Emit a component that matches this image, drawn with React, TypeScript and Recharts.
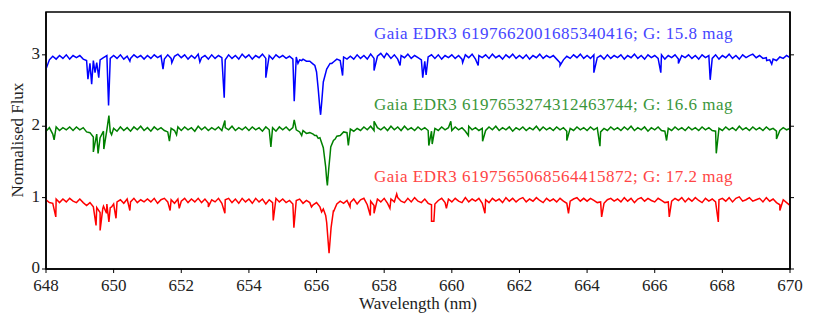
import React from 'react';
import { LineChart, Line, XAxis, YAxis, ReferenceArea } from 'recharts';

// wavelength grid: 648.0 .. 670.0 nm every 0.1 nm
const WL_START = 648;
const WL_STEP = 0.1;

// continuum flux on the grid (x100)
const blueGrid = [
  280, 293, 298, 294, 299, 295, 300, 294, 299, 296,
  299, 294, 292, 288, 292, 289, 293, 296, 299, 295,
  299, 295, 300, 294, 298, 295, 300, 296, 299, 294,
  299, 295, 300, 296, 299, 294, 300, 295, 298, 301,
  296, 300, 294, 299, 295, 301, 296, 299, 294, 300,
  295, 299, 296, 293, 300, 295, 299, 294, 301, 296,
  300, 294, 299, 296, 301, 295, 299, 294, 300, 296,
  299, 295, 298, 294, 297, 293, 294, 291, 291, 287,
  276, 224, 262, 280, 288, 290, 294, 292, 297, 294,
  298, 294, 300, 295, 299, 294, 301, 295, 298, 302,
  296, 301, 295, 300, 294, 299, 296, 301, 295, 299,
  296, 293, 291, 297, 300, 295, 300, 294, 299, 296,
  300, 295, 299, 294, 300, 296, 301, 294, 299, 296,
  300, 295, 301, 296, 299, 294, 300, 296, 301, 295,
  299, 295, 300, 294, 299, 296, 301, 295, 299, 296,
  299, 294, 289, 293, 298, 295, 300, 296, 301, 295,
  299, 295, 300, 296, 299, 294, 300, 295, 299, 296,
  300, 294, 299, 296, 301, 295, 299, 294, 300, 296,
  299, 295, 300, 294, 299, 296, 300, 294, 299, 296,
  300, 295, 299, 294, 300, 296, 299, 295, 300, 294,
  299, 296, 301, 295, 299, 294, 300, 296, 299, 301,
  296, 299, 295, 296, 293, 294, 292, 297, 295, 299,
  296,
];

const greenGrid = [
  193, 198, 189, 199, 194, 198, 195, 199, 194, 199,
  195, 198, 192, 191, 185, 189, 184, 193, 195, 192,
  197, 193, 199, 194, 198, 193, 199, 195, 200, 194,
  198, 193, 199, 195, 198, 194, 192, 197, 194, 199,
  194, 199, 195, 198, 193, 200, 195, 199, 194, 198,
  195, 199, 194, 198, 195, 200, 194, 198, 195, 199,
  194, 199, 195, 198, 193, 199, 195, 198, 193, 199,
  195, 199, 194, 198, 195, 192, 194, 190, 191, 189,
  187, 184, 170, 125, 160, 180, 186, 187, 192, 191,
  196, 193, 197, 194, 199, 195, 200, 194, 198, 195,
  199, 194, 200, 195, 199, 194, 200, 195, 198, 194,
  199, 195, 198, 194, 193, 197, 194, 199, 195, 198,
  194, 199, 195, 198, 193, 200, 195, 198, 194, 197,
  194, 199, 195, 200, 194, 198, 195, 199, 193, 198,
  195, 199, 194, 198, 195, 200, 194, 199, 195, 198,
  194, 199, 195, 198, 193, 197, 194, 199, 195, 198,
  194, 199, 195, 198, 192, 197, 194, 199, 195, 198,
  194, 199, 195, 200, 194, 198, 195, 199, 193, 198,
  195, 199, 194, 193, 197, 194, 199, 195, 198, 194,
  199, 195, 198, 194, 199, 195, 198, 194, 193, 197,
  194, 199, 195, 198, 194, 200, 195, 198, 194, 199,
  195, 198, 194, 199, 195, 197, 193, 194, 198, 195,
  197,
];

const redGrid = [
  97, 93, 92, 98, 93, 98, 94, 99, 95, 93,
  98, 93, 89, 93, 87, 86, 79, 88, 91, 86,
  91, 94, 97, 92, 98, 94, 99, 93, 97, 94,
  98, 94, 99, 92, 97, 99, 94, 97, 92, 98,
  95, 99, 93, 98, 94, 99, 93, 98, 92, 97,
  94, 99, 92, 97, 99, 93, 98, 92, 99, 94,
  98, 92, 99, 94, 98, 91, 97, 93, 99, 94,
  98, 93, 96, 91, 96, 98, 92, 96, 93, 90,
  93, 87, 84, 65, 40, 82, 91, 95, 92, 96,
  93, 98, 91, 97, 99, 90, 95, 89, 98, 94,
  99, 92, 98, 94, 100, 95, 93, 99, 94, 100,
  95, 93, 98, 92, 90, 91, 96, 99, 93, 98,
  94, 99, 95, 93, 100, 94, 98, 95, 99, 92,
  97, 93, 99, 95, 98, 93, 100, 95, 99, 94,
  98, 100, 94, 98, 95, 100, 96, 93, 99, 95,
  98, 94, 99, 95, 92, 95, 98, 100, 95, 99,
  95, 99, 96, 93, 94, 92, 97, 99, 95, 98,
  94, 100, 95, 99, 93, 98, 100, 95, 99, 96,
  94, 99, 96, 93, 94, 95, 99, 96, 100, 94,
  99, 95, 100, 96, 93, 99, 95, 98, 94, 97,
  99, 95, 100, 94, 99, 101, 95, 97, 100, 95,
  97, 99, 94, 100, 95, 98, 93, 90, 97, 93,
  89,
];

// absorption lines / spikes off the grid: [wavelength, flux x100]
const blueLines = [
  [649.24, 266], [649.35, 259], [649.45, 275], [649.56, 268], [649.85, 229],
  [650.48, 291], [651.46, 280], [651.72, 289], [652.55, 290], [653.27, 240],
  [654.5, 268], [655.34, 235], [655.45, 288], [655.56, 292], [655.95, 285],
  [656.05, 252], [656.12, 216], [656.15, 232], [656.45, 288], [656.77, 271],
  [657.7, 278], [658.07, 302], [658.47, 285], [659.14, 268], [659.24, 272],
  [660.32, 289], [660.78, 285], [663.2, 285], [664.2, 275], [666.18, 275],
  [666.7, 288], [667.64, 265], [669.31, 292], [669.46, 287],
];

const greenLines = [
  [648.24, 181], [649.4, 164], [649.54, 162], [649.71, 168], [649.86, 215],
  [649.94, 188], [651.65, 179], [651.86, 188], [653.29, 208], [654.65, 171],
  [655.34, 209], [655.56, 187], [655.95, 187], [656.05, 183], [656.27, 143],
  [656.32, 117], [656.36, 140], [656.42, 171], [656.55, 182], [656.94, 173],
  [657.7, 207], [659.32, 173], [659.42, 175], [659.97, 207], [660.49, 187],
  [660.91, 179], [663.4, 180], [664.38, 172], [666.35, 180], [667.82, 162],
  [669.6, 182],
];

const redLines = [
  [648.29, 73], [649.48, 61], [649.6, 54], [649.68, 85], [649.79, 78],
  [649.86, 66], [649.94, 87], [650.07, 71], [650.48, 82], [651.67, 82],
  [651.94, 85], [652.8, 87], [653.29, 78], [654.72, 68], [655.33, 58],
  [655.85, 87], [656.15, 80], [656.27, 75], [656.37, 22], [656.43, 58],
  [656.5, 80], [656.99, 87], [657.59, 75], [657.7, 78], [658.17, 85],
  [658.37, 105], [659.4, 67], [659.47, 67], [659.84, 85], [660.98, 78],
  [663.45, 78], [664.43, 73], [666.43, 73], [667.88, 66], [669.7, 82],
];

const xTicks = [648, 650, 652, 654, 656, 658, 660, 662, 664, 666, 668, 670];
const yTicks = [0, 1, 2, 3];

const labels = [
  { text: 'Gaia EDR3 6197662001685340416; G: 15.8 mag', color: '#4545ff', top: 23 },
  { text: 'Gaia EDR3 6197653274312463744; G: 16.6 mag', color: '#3b963b', top: 94 },
  { text: 'Gaia EDR3 6197565068564415872; G: 17.2 mag', color: '#ff4545', top: 166 },
];

const buildSeries = (grid: number[], lines: number[][]) => {
  const pts = grid.map((v, i) => ({ wl: +(WL_START + i * WL_STEP).toFixed(2), flux: v / 100 }));
  lines.forEach(([wl, v]) => pts.push({ wl, flux: v / 100 }));
  return pts.sort((a, b) => a.wl - b.wl);
};

const blueData = buildSeries(blueGrid, blueLines);
const greenData = buildSeries(greenGrid, greenLines);
const redData = buildSeries(redGrid, redLines);

const FONT = '"Liberation Serif", "Times New Roman", Tinos, "DejaVu Serif", "Noto Serif", FreeSerif, "Nimbus Roman", serif';
const tickStyle = { fontSize: 17, fill: '#222', fontFamily: FONT };

export default function App() {
  return (
    <div style={{ position: 'relative', width: 814, height: 326, fontFamily: FONT }}>
      <style>{`body { margin: 0; }`}</style>
      <LineChart width={814} height={326} margin={{ top: 12, right: 14, bottom: 27, left: 6 }}>
        <XAxis
          type="number"
          dataKey="wl"
          domain={[648, 670]}
          ticks={xTicks}
          allowDataOverflow
          tick={tickStyle}
          tickSize={4}
          tickMargin={6}
          tickLine={{ stroke: '#000' }}
          axisLine={{ stroke: '#000', strokeWidth: 1.5 }}
          height={30}
        />
        <YAxis
          yAxisId="l"
          type="number"
          domain={[0, 3.6]}
          ticks={yTicks}
          allowDataOverflow
          tick={{ ...tickStyle, dy: -2 }}
          tickSize={4}
          tickLine={{ stroke: '#000' }}
          axisLine={{ stroke: '#000', strokeWidth: 1.5 }}
          width={40}
        />
        <YAxis
          yAxisId="r"
          orientation="right"
          type="number"
          domain={[0, 3.6]}
          ticks={yTicks}
          allowDataOverflow
          tickFormatter={() => ''}
          tickSize={4}
          tickLine={{ stroke: '#000' }}
          axisLine={{ stroke: '#000', strokeWidth: 1.5 }}
          width={10}
        />
        <ReferenceArea
          yAxisId="l"
          x1={648}
          x2={670}
          y1={0}
          y2={3.6}
          fill="none"
          stroke="#000"
          strokeWidth={1.5}
          ifOverflow="visible"
        />
        <Line yAxisId="l" data={blueData} dataKey="flux" type="linear" stroke="#0000ff" strokeWidth={1.5} dot={false} isAnimationActive={false} />
        <Line yAxisId="l" data={greenData} dataKey="flux" type="linear" stroke="#008000" strokeWidth={1.5} dot={false} isAnimationActive={false} />
        <Line yAxisId="l" data={redData} dataKey="flux" type="linear" stroke="#ff0000" strokeWidth={1.5} dot={false} isAnimationActive={false} />
      </LineChart>
      {labels.map((l) => (
        <div
          key={l.text}
          style={{ position: 'absolute', right: 81, top: l.top, fontSize: 17, letterSpacing: 0.5, color: l.color, whiteSpace: 'nowrap', lineHeight: '22px' }}
        >
          {l.text}
        </div>
      ))}
      <div style={{ position: 'absolute', left: 418, top: 293, transform: 'translateX(-50%)', fontSize: 17, color: '#222', whiteSpace: 'nowrap', lineHeight: '22px' }}>
        Wavelength (nm)
      </div>
      <div style={{ position: 'absolute', left: 18, top: 140, transform: 'translate(-50%, -50%) rotate(-90deg)', fontSize: 17, color: '#222', whiteSpace: 'nowrap', lineHeight: '22px' }}>
        Normalised Flux
      </div>
    </div>
  );
}
